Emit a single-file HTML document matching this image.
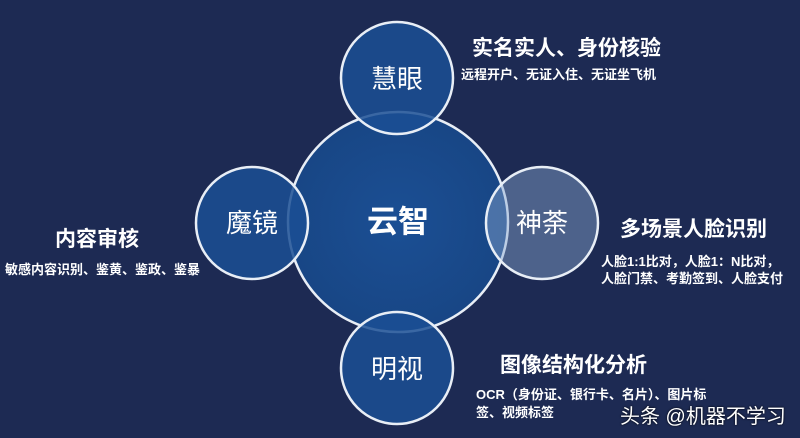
<!DOCTYPE html>
<html><head><meta charset="utf-8"><style>
html,body{margin:0;padding:0}
body{width:800px;height:438px;background:#1d2a53;position:relative;overflow:hidden;font-family:"Liberation Sans","Noto Sans CJK SC",sans-serif;color:#fff}
.t{position:absolute;white-space:nowrap;font-weight:bold}
.h{font-size:21px}
.s{font-size:13px}
</style></head><body>
<svg width="800" height="438" style="position:absolute;left:0;top:0">
<defs><radialGradient id="g" cx="50%" cy="50%" r="50%"><stop offset="0" stop-color="#1b4f94"/><stop offset="1" stop-color="#184685"/></radialGradient></defs>
<circle cx="398" cy="222" r="110" fill="url(#g)" stroke="#e8eef6" stroke-width="2.5"/>
<circle cx="397" cy="78" r="56" fill="#1b4f94" fill-opacity="0.85" stroke="#e8eef6" stroke-width="2.5"/>
<circle cx="252" cy="223" r="56" fill="#1b4f94" fill-opacity="0.85" stroke="#e8eef6" stroke-width="2.5"/>
<circle cx="397" cy="368" r="56" fill="#1b4f94" fill-opacity="0.85" stroke="#e8eef6" stroke-width="2.5"/>
<circle cx="542" cy="223" r="56" fill="#8aa6d0" fill-opacity="0.45" stroke="#e8eef6" stroke-width="2.5"/>
<g fill="#fff" font-family="Liberation Sans, Noto Sans CJK SC, sans-serif" text-anchor="middle" dominant-baseline="central">
<text x="398" y="222" font-size="31" font-weight="bold">云智</text>
<text x="397" y="79" font-size="26">慧眼</text>
<text x="252" y="223" font-size="26">魔镜</text>
<text x="542" y="223" font-size="26">神荼</text>
<text x="397" y="369" font-size="26">明视</text>
</g></svg>
<div class="t h" style="left:472px;top:32px">实名实人、身份核验</div>
<div class="t s" style="left:461px;top:64px">远程开户、无证入住、无证坐飞机</div>
<div class="t h" style="left:55px;top:223px">内容审核</div>
<div class="t s" style="left:5px;top:259px">敏感内容识别、鉴黄、鉴政、鉴暴</div>
<div class="t h" style="left:620px;top:213px">多场景人脸识别</div>
<div class="t s" style="left:601px;top:251px">人脸1:1比对，人脸1：N比对，</div>
<div class="t s" style="left:601px;top:268px">人脸门禁、考勤签到、人脸支付</div>
<div class="t h" style="left:500px;top:349px">图像结构化分析</div>
<div class="t s" style="left:476px;top:384px">OCR（身份证、银行卡、名片）、图片标</div>
<div class="t s" style="left:476px;top:402px">签、视频标签</div>
<div class="t" style="left:620px;top:400px;font-size:20px;font-weight:normal;text-shadow:0 0 2px #000">头条 @机器不学习</div>
</body></html>
